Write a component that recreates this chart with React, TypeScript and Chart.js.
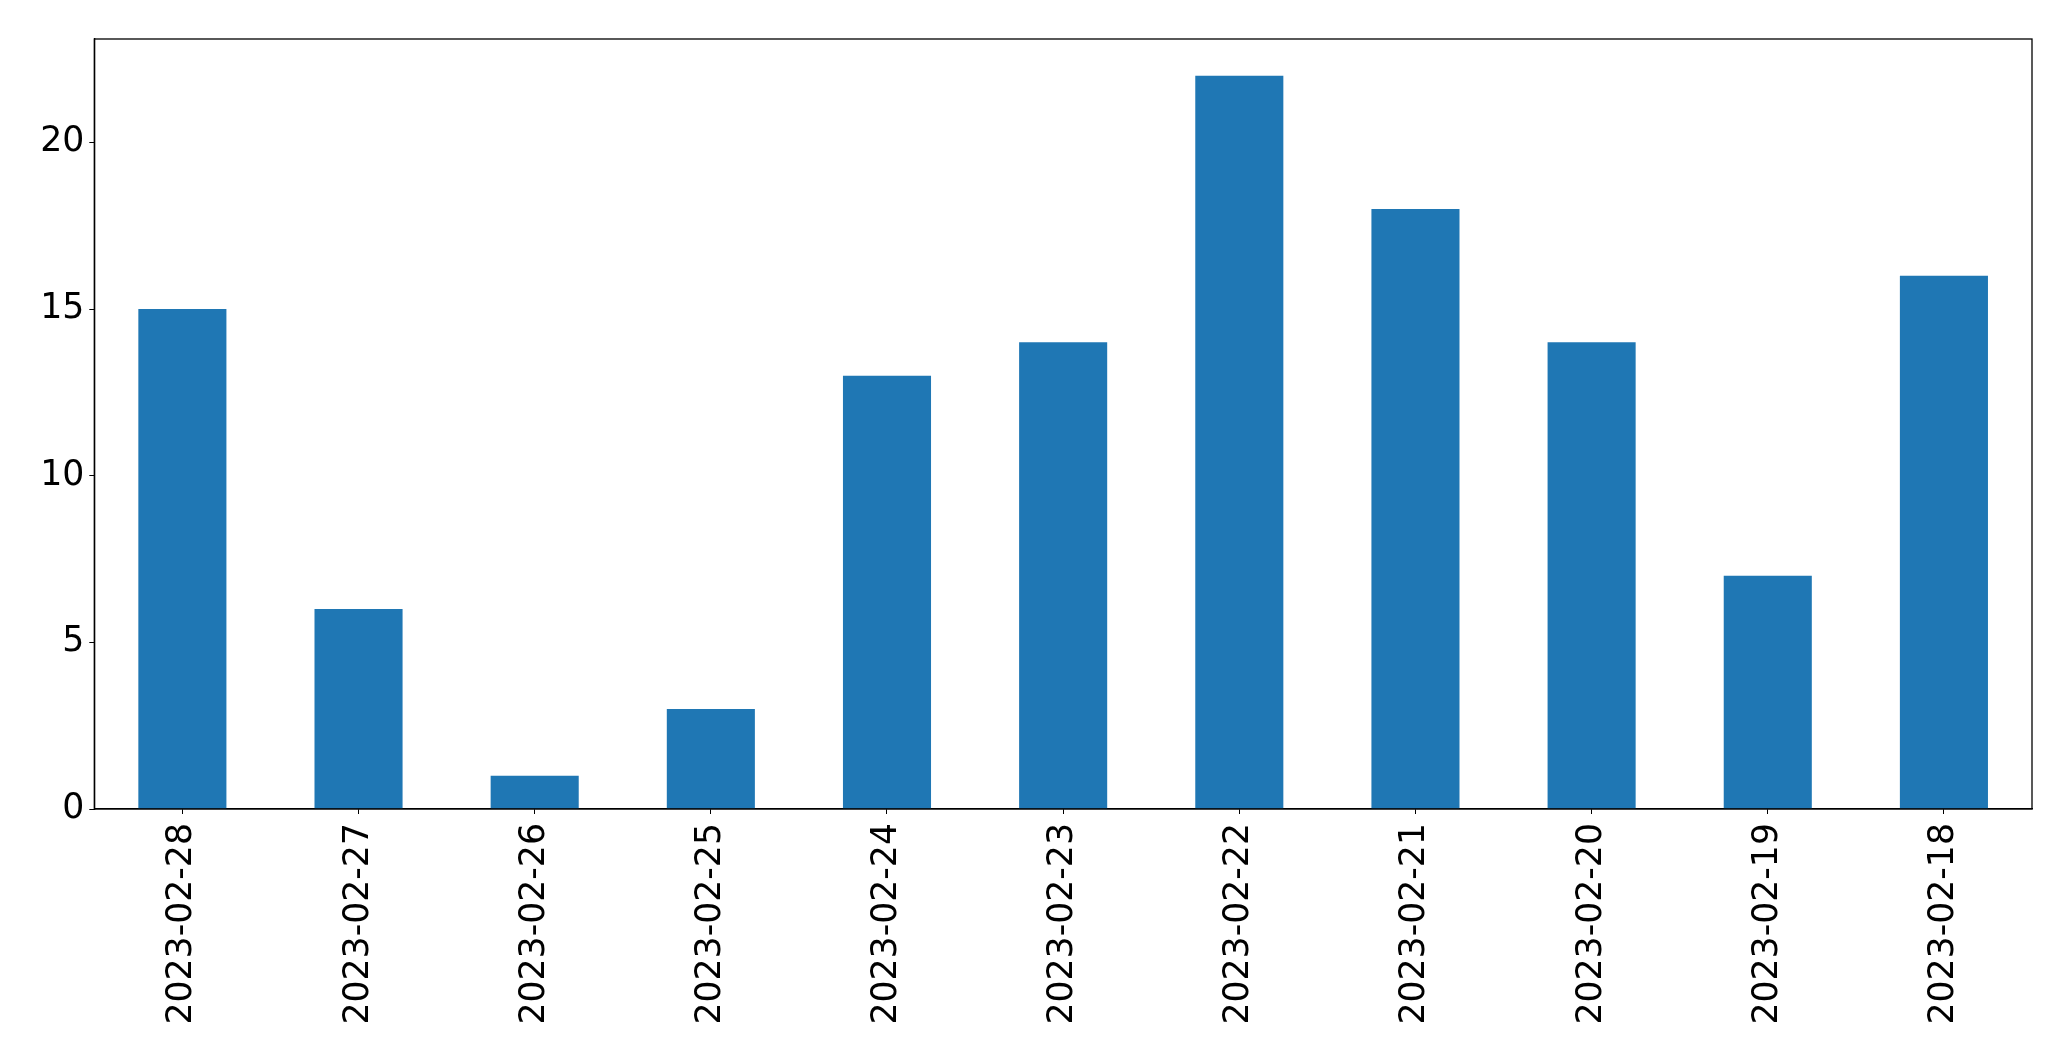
import React, { useEffect, useRef } from "react";
import { Chart, registerables } from "chart.js";

Chart.register(...registerables);

const categories = [
  "2023-02-28", "2023-02-27", "2023-02-26", "2023-02-25", "2023-02-24", "2023-02-23",
  "2023-02-22", "2023-02-21", "2023-02-20", "2023-02-19", "2023-02-18",
];
const counts = [15, 6, 1, 3, 13, 14, 22, 18, 14, 7, 16];
const yTicks = [0, 5, 10, 15, 20];
const yMax = 23.1;

const frame = {
  id: "frame",
  afterDraw(chart: any) {
    const { ctx, chartArea: a } = chart;
    ctx.save();
    ctx.strokeStyle = "#000";
    ctx.lineWidth = 1.3;
    ctx.strokeRect(a.left, a.top, a.right - a.left, a.bottom - a.top);
    ctx.restore();
  },
};

export default function App() {
  const ref = useRef<HTMLCanvasElement>(null);
  useEffect(() => {
    document.body.style.margin = "0";
    const font = { family: "DejaVu Sans", size: 34.7 };
    const chart = new Chart(ref.current!, {
      type: "bar",
      data: {
        labels: categories,
        datasets: [
          {
            data: counts,
            backgroundColor: "#1f77b4",
            borderWidth: 0,
            categoryPercentage: 1,
            barPercentage: 0.5,
          },
        ],
      },
      options: {
        animation: false,
        responsive: false,
        maintainAspectRatio: false,
        devicePixelRatio: 1,
        layout: { padding: { top: 39, right: 39, left: 0, bottom: 0 } },
        plugins: { legend: { display: false }, tooltip: { enabled: false } },
        scales: {
          x: {
            offset: true,
            grid: { drawOnChartArea: false, drawTicks: true, tickLength: 5, color: "#000", offset: false },
            border: { display: true, color: "#000", width: 1.3 },
            ticks: { font, color: "#000", maxRotation: 90, minRotation: 90, padding: 9, autoSkip: false },
            afterFit(scale: any) {
              scale.height = 252;
            },
          },
          y: {
            min: 0,
            max: yMax,
            grid: { drawOnChartArea: false, drawTicks: true, tickLength: 5, color: "#000" },
            border: { display: true, color: "#000", width: 1.3 },
            ticks: { font, color: "#000", padding: 5 },
            afterBuildTicks(scale: any) {
              scale.ticks = yTicks.map((v) => ({ value: v }));
            },
            afterFit(scale: any) {
              scale.width = 94.3;
            },
          },
        },
      },
      plugins: [frame],
    });
    return () => chart.destroy();
  }, []);
  return (
    <div style={{ position: "fixed", left: 0, top: 0, width: 2071, height: 1061, background: "#fff" }}>
      <canvas ref={ref} width={2071} height={1061} />
    </div>
  );
}
